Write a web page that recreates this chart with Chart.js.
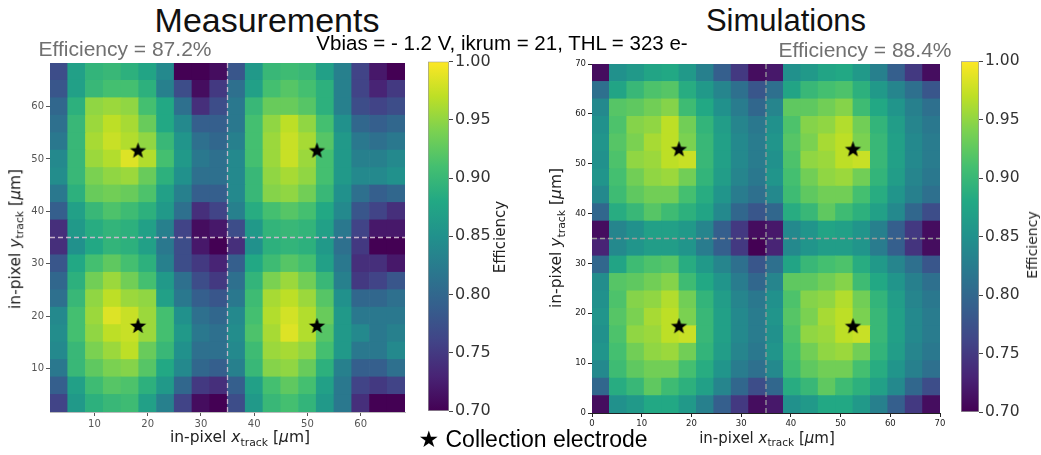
<!DOCTYPE html>
<html>
<head>
<meta charset="utf-8">
<script src="https://cdn.jsdelivr.net/npm/chart.js@4.4.1/dist/chart.umd.min.js"></script>
<style>
  body { margin: 0; background: #fff; width: 1041px; height: 455px; overflow: hidden; position: relative; }
  canvas { position: absolute; }
  .txt { position: absolute; white-space: nowrap; line-height: 1; transform: translate(-50%, -50%); }
  .slide { font-family: "Liberation Sans", Arial, sans-serif; }
  .mpl { font-family: "DejaVu Sans", sans-serif; color: #222; }
  .rot { transform: translate(-50%, -50%) rotate(-90deg); }
  sub { font-size: 70%; vertical-align: -0.3em; line-height: 0; }
</style>
</head>
<body>
<canvas id="measMap" width="415" height="385" style="left:0;top:50px"></canvas>
<canvas id="measBar" width="80" height="385" style="left:420px;top:50px"></canvas>
<canvas id="simMap" width="420" height="385" style="left:530px;top:50px"></canvas>
<canvas id="simBar" width="88" height="385" style="left:953px;top:50px"></canvas>

<div class="txt slide" style="left:267px;top:20px;font-size:34px;color:#111">Measurements</div>
<div class="txt slide" style="left:786px;top:20px;font-size:31px;color:#111">Simulations</div>
<div class="txt slide" style="left:125px;top:48px;font-size:21px;color:#707070">Efficiency = 87.2%</div>
<div class="txt slide" style="left:865px;top:49px;font-size:21px;color:#707070">Efficiency = 88.4%</div>
<div class="txt slide" style="left:502px;top:43px;font-size:20.5px;color:#000">Vbias = - 1.2 V, ikrum = 21, THL = 323 e-</div>
<div class="txt slide" style="left:533px;top:439px;font-size:23px;color:#000"><span style="font-family:'DejaVu Sans'">★</span> Collection electrode</div>

<div class="txt mpl rot" style="left:16px;top:239px;font-size:15.5px">in-pixel <i>y</i><sub>track</sub> [<i>µ</i>m]</div>
<div class="txt mpl" style="left:240px;top:438px;font-size:15.5px">in-pixel <i>x</i><sub>track</sub> [<i>µ</i>m]</div>
<div class="txt mpl rot" style="left:557px;top:238px;font-size:15.5px">in-pixel <i>y</i><sub>track</sub> [<i>µ</i>m]</div>
<div class="txt mpl" style="left:767px;top:438px;font-size:15px">in-pixel <i>x</i><sub>track</sub> [<i>µ</i>m]</div>
<div class="txt mpl rot" style="left:500px;top:237px;font-size:15px">Efficiency</div>
<div class="txt mpl rot" style="left:1032px;top:245px;font-size:14px">Efficiency</div>

<script>
// in-pixel efficiency maps, rows listed from top (high y) to bottom (low y)
const measRange = [5 / 3, 205 / 3];
const measTicks = [10, 20, 30, 40, 50, 60];
const measEff = [
  [0.77, 0.87, 0.895, 0.90, 0.89, 0.875, 0.84, 0.70, 0.70, 0.71, 0.78, 0.86, 0.90, 0.905, 0.90, 0.87, 0.83, 0.76, 0.72, 0.70],
  [0.78, 0.87, 0.90, 0.91, 0.91, 0.89, 0.83, 0.77, 0.71, 0.75, 0.81, 0.87, 0.91, 0.92, 0.91, 0.89, 0.83, 0.76, 0.73, 0.75],
  [0.80, 0.89, 0.95, 0.955, 0.95, 0.91, 0.88, 0.81, 0.74, 0.77, 0.82, 0.90, 0.93, 0.93, 0.92, 0.89, 0.83, 0.77, 0.76, 0.77],
  [0.81, 0.90, 0.955, 0.97, 0.96, 0.93, 0.88, 0.84, 0.79, 0.79, 0.82, 0.91, 0.95, 0.97, 0.95, 0.91, 0.85, 0.80, 0.79, 0.80],
  [0.82, 0.90, 0.96, 0.975, 0.965, 0.95, 0.90, 0.855, 0.81, 0.80, 0.83, 0.91, 0.955, 0.975, 0.96, 0.92, 0.86, 0.82, 0.81, 0.82],
  [0.84, 0.90, 0.955, 0.965, 0.985, 0.965, 0.91, 0.86, 0.82, 0.81, 0.84, 0.91, 0.955, 0.975, 0.955, 0.91, 0.86, 0.83, 0.83, 0.84],
  [0.845, 0.90, 0.94, 0.95, 0.955, 0.93, 0.89, 0.85, 0.81, 0.81, 0.84, 0.90, 0.95, 0.96, 0.95, 0.91, 0.86, 0.84, 0.84, 0.85],
  [0.82, 0.89, 0.93, 0.935, 0.93, 0.915, 0.87, 0.83, 0.79, 0.79, 0.84, 0.90, 0.945, 0.95, 0.935, 0.90, 0.85, 0.81, 0.79, 0.80],
  [0.79, 0.87, 0.90, 0.915, 0.905, 0.89, 0.86, 0.81, 0.74, 0.76, 0.83, 0.885, 0.91, 0.92, 0.91, 0.88, 0.84, 0.78, 0.76, 0.74],
  [0.74, 0.86, 0.885, 0.895, 0.89, 0.87, 0.83, 0.76, 0.71, 0.72, 0.77, 0.86, 0.895, 0.90, 0.895, 0.87, 0.82, 0.76, 0.72, 0.72],
  [0.74, 0.85, 0.88, 0.895, 0.89, 0.87, 0.82, 0.77, 0.72, 0.70, 0.74, 0.85, 0.89, 0.895, 0.89, 0.86, 0.81, 0.75, 0.70, 0.70],
  [0.78, 0.88, 0.91, 0.925, 0.91, 0.89, 0.83, 0.77, 0.75, 0.73, 0.79, 0.88, 0.905, 0.92, 0.91, 0.87, 0.82, 0.74, 0.74, 0.72],
  [0.80, 0.89, 0.935, 0.955, 0.935, 0.91, 0.86, 0.81, 0.77, 0.75, 0.81, 0.895, 0.94, 0.955, 0.935, 0.90, 0.83, 0.75, 0.76, 0.78],
  [0.81, 0.90, 0.95, 0.97, 0.955, 0.95, 0.87, 0.82, 0.79, 0.78, 0.82, 0.905, 0.96, 0.97, 0.955, 0.92, 0.85, 0.80, 0.80, 0.81],
  [0.84, 0.91, 0.955, 0.985, 0.975, 0.955, 0.91, 0.85, 0.81, 0.80, 0.84, 0.91, 0.965, 0.98, 0.965, 0.93, 0.86, 0.82, 0.82, 0.82],
  [0.845, 0.91, 0.95, 0.97, 0.975, 0.955, 0.91, 0.86, 0.82, 0.81, 0.845, 0.915, 0.96, 0.985, 0.965, 0.92, 0.86, 0.84, 0.82, 0.83],
  [0.84, 0.90, 0.94, 0.955, 0.97, 0.93, 0.90, 0.85, 0.81, 0.81, 0.84, 0.905, 0.955, 0.96, 0.95, 0.91, 0.86, 0.82, 0.82, 0.84],
  [0.82, 0.90, 0.925, 0.94, 0.945, 0.92, 0.88, 0.84, 0.80, 0.79, 0.83, 0.90, 0.945, 0.95, 0.93, 0.89, 0.83, 0.79, 0.79, 0.81],
  [0.79, 0.87, 0.905, 0.92, 0.915, 0.89, 0.86, 0.80, 0.75, 0.74, 0.79, 0.87, 0.91, 0.925, 0.91, 0.87, 0.82, 0.76, 0.75, 0.76],
  [0.76, 0.86, 0.89, 0.90, 0.905, 0.87, 0.83, 0.76, 0.71, 0.70, 0.77, 0.86, 0.90, 0.91, 0.895, 0.86, 0.82, 0.74, 0.70, 0.70]
];
const measStarX = [18.2, 51.8, 18.2, 51.8];
const measStarY = [51.7, 51.7, 18.2, 18.2];

const simRange = [0, 70];
const simTicks = [0, 10, 20, 30, 40, 50, 60, 70];
const simEff = [
  [0.71, 0.85, 0.86, 0.875, 0.88, 0.86, 0.83, 0.79, 0.75, 0.71, 0.72, 0.85, 0.86, 0.875, 0.88, 0.86, 0.83, 0.79, 0.75, 0.71],
  [0.81, 0.875, 0.90, 0.915, 0.92, 0.885, 0.86, 0.835, 0.81, 0.78, 0.81, 0.875, 0.90, 0.91, 0.915, 0.89, 0.86, 0.835, 0.81, 0.78],
  [0.84, 0.92, 0.925, 0.935, 0.945, 0.905, 0.88, 0.85, 0.825, 0.80, 0.835, 0.925, 0.925, 0.935, 0.945, 0.905, 0.88, 0.855, 0.83, 0.81],
  [0.85, 0.915, 0.945, 0.95, 0.97, 0.935, 0.895, 0.865, 0.835, 0.82, 0.85, 0.915, 0.945, 0.95, 0.965, 0.935, 0.895, 0.865, 0.835, 0.82],
  [0.855, 0.92, 0.94, 0.96, 0.97, 0.94, 0.90, 0.87, 0.84, 0.825, 0.855, 0.92, 0.94, 0.96, 0.97, 0.94, 0.90, 0.87, 0.84, 0.825],
  [0.85, 0.915, 0.95, 0.955, 0.97, 0.975, 0.90, 0.87, 0.84, 0.825, 0.85, 0.915, 0.95, 0.955, 0.97, 0.975, 0.90, 0.87, 0.84, 0.825],
  [0.855, 0.91, 0.935, 0.95, 0.955, 0.935, 0.895, 0.865, 0.835, 0.82, 0.855, 0.91, 0.935, 0.95, 0.955, 0.935, 0.895, 0.865, 0.835, 0.82],
  [0.84, 0.905, 0.925, 0.935, 0.935, 0.91, 0.885, 0.855, 0.825, 0.81, 0.84, 0.905, 0.925, 0.935, 0.935, 0.91, 0.885, 0.855, 0.83, 0.81],
  [0.80, 0.885, 0.90, 0.92, 0.905, 0.89, 0.875, 0.84, 0.80, 0.78, 0.80, 0.885, 0.90, 0.925, 0.905, 0.89, 0.87, 0.84, 0.80, 0.77],
  [0.71, 0.835, 0.85, 0.87, 0.87, 0.86, 0.835, 0.79, 0.75, 0.71, 0.72, 0.84, 0.855, 0.875, 0.87, 0.855, 0.83, 0.79, 0.75, 0.71],
  [0.73, 0.84, 0.855, 0.865, 0.865, 0.855, 0.825, 0.79, 0.75, 0.70, 0.73, 0.84, 0.855, 0.865, 0.865, 0.855, 0.825, 0.79, 0.745, 0.71],
  [0.80, 0.875, 0.905, 0.915, 0.92, 0.885, 0.86, 0.835, 0.81, 0.78, 0.81, 0.875, 0.90, 0.91, 0.915, 0.885, 0.86, 0.835, 0.81, 0.78],
  [0.845, 0.92, 0.925, 0.935, 0.945, 0.905, 0.88, 0.855, 0.825, 0.80, 0.835, 0.925, 0.925, 0.935, 0.945, 0.905, 0.88, 0.855, 0.83, 0.81],
  [0.85, 0.915, 0.945, 0.95, 0.965, 0.935, 0.895, 0.865, 0.835, 0.82, 0.85, 0.915, 0.945, 0.95, 0.965, 0.935, 0.895, 0.865, 0.835, 0.82],
  [0.855, 0.92, 0.94, 0.96, 0.97, 0.94, 0.90, 0.87, 0.84, 0.825, 0.855, 0.92, 0.94, 0.96, 0.97, 0.94, 0.90, 0.87, 0.84, 0.825],
  [0.85, 0.915, 0.95, 0.955, 0.97, 0.975, 0.90, 0.87, 0.84, 0.825, 0.85, 0.915, 0.95, 0.955, 0.97, 0.975, 0.90, 0.87, 0.84, 0.825],
  [0.855, 0.91, 0.935, 0.95, 0.955, 0.935, 0.895, 0.865, 0.835, 0.82, 0.855, 0.91, 0.935, 0.95, 0.955, 0.935, 0.895, 0.865, 0.835, 0.82],
  [0.84, 0.905, 0.925, 0.935, 0.935, 0.91, 0.885, 0.855, 0.825, 0.81, 0.84, 0.905, 0.925, 0.935, 0.935, 0.91, 0.885, 0.855, 0.83, 0.81],
  [0.80, 0.885, 0.90, 0.925, 0.905, 0.89, 0.87, 0.835, 0.80, 0.77, 0.80, 0.885, 0.90, 0.925, 0.905, 0.89, 0.87, 0.84, 0.80, 0.77],
  [0.71, 0.85, 0.86, 0.88, 0.88, 0.86, 0.83, 0.79, 0.75, 0.71, 0.72, 0.85, 0.86, 0.88, 0.88, 0.86, 0.83, 0.79, 0.75, 0.71]
];
const simStarX = [17.5, 52.5, 17.5, 52.5];
const simStarY = [53, 53, 17.5, 17.5];

const pixelBorder = 35;
const effMin = 0.70;
const effMax = 1.00;
const effTicks = [0.70, 0.75, 0.80, 0.85, 0.90, 0.95, 1.00];

const viridis = ['#440154', '#482475', '#414487', '#355f8d', '#2a788e', '#21918c',
                 '#22a884', '#44bf70', '#7ad151', '#bddf26', '#fde725'];

Chart.defaults.font.family = "'DejaVu Sans', sans-serif";
Chart.defaults.color = '#333';

function hexRgb(h) {
  return [1, 3, 5].map(i => parseInt(h.slice(i, i + 2), 16));
}

function cmap(v) {
  let t = (v - effMin) / (effMax - effMin);
  t = Math.min(1, Math.max(0, t)) * (viridis.length - 1);
  const i = Math.min(viridis.length - 2, Math.floor(t));
  const a = hexRgb(viridis[i]), b = hexRgb(viridis[i + 1]);
  const f = t - i;
  const c = a.map((x, k) => Math.round(x + (b[k] - x) * f));
  return `rgb(${c[0]},${c[1]},${c[2]})`;
}

function cells(rows, range) {
  const nx = rows[0].length, ny = rows.length;
  const w = (range[1] - range[0]) / nx, h = (range[1] - range[0]) / ny;
  const pts = [];
  rows.forEach((row, r) => row.forEach((v, c) => {
    pts.push({x: range[0] + (c + 0.5) * w, y: range[1] - (r + 0.5) * h, v: v});
  }));
  return pts;
}

// filled 5-point star used as the electrode marker
function starImage(R) {
  const cv = document.createElement('canvas');
  cv.width = cv.height = 2 * R + 2;
  const g = cv.getContext('2d');
  g.beginPath();
  for (let k = 0; k < 10; k++) {
    const rad = k % 2 ? R * 0.42 : R;
    const ang = -Math.PI / 2 + k * Math.PI / 5;
    g.lineTo(R + 1 + rad * Math.cos(ang), R + 1 + rad * Math.sin(ang) + 0.8);
  }
  g.closePath();
  g.fillStyle = '#000';
  g.fill();
  return cv;
}
const star = starImage(8.5);

function heatmap(id, rows, range, ticks, starX, starY, lay) {
  const cellW = (range[1] - range[0]) / rows[0].length;
  const cellH = (range[1] - range[0]) / rows.length;
  const axis = (size, ticksFont, fit) => ({
    type: 'linear', min: range[0], max: range[1],
    afterBuildTicks: s => { s.ticks = ticks.map(v => ({value: v})); },
    afterFit: fit,
    ticks: {font: {size: ticksFont}, color: lay.tickColor, padding: 2, maxRotation: 0, autoSkip: false},
    grid: {drawOnChartArea: false, drawTicks: true, tickLength: 4, tickColor: lay.tickColor},
    border: {display: true, color: lay.frame, width: 1}
  });
  return new Chart(document.getElementById(id), {
    type: 'scatter',
    data: {
      datasets: [
        {
          data: starX.map((x, i) => ({x: x, y: starY[i]})),
          pointStyle: star, pointRadius: 9
        },
        {
          data: [{x: pixelBorder, y: range[0]}, {x: pixelBorder, y: range[1]}],
          showLine: true, borderColor: lay.dash, borderWidth: 1.3, borderDash: [5, 3], pointRadius: 0
        },
        {
          data: [{x: range[0], y: pixelBorder}, {x: range[1], y: pixelBorder}],
          showLine: true, borderColor: lay.dash, borderWidth: 1.3, borderDash: [5, 3], pointRadius: 0
        },
        {
          data: cells(rows, range),
          pointStyle: 'rect',
          pointBorderWidth: 0,
          backgroundColor: ctx => cmap(ctx.raw.v),
          pointRadius: ctx => {
            const sx = ctx.chart.scales.x, sy = ctx.chart.scales.y;
            const pw = Math.abs(sx.getPixelForValue(cellW) - sx.getPixelForValue(0));
            const ph = Math.abs(sy.getPixelForValue(cellH) - sy.getPixelForValue(0));
            return (Math.max(pw, ph) + 0.7) / Math.SQRT2;
          }
        }
      ]
    },
    options: {
      responsive: false, animation: false, events: [],
      layout: {padding: lay.padding},
      plugins: {legend: {display: false}, tooltip: {enabled: false}},
      scales: {
        x: axis('x', lay.tickSize, s => { s.height = lay.xH; }),
        y: axis('y', lay.tickSize, s => { s.width = lay.yW; })
      }
    }
  });
}

function colorbar(id, lay) {
  return new Chart(document.getElementById(id), {
    type: 'bar',
    data: {
      labels: [''],
      datasets: [{
        data: [[effMin, effMax]],
        categoryPercentage: 1, barPercentage: 1,
        borderColor: '#9a9a9a', borderWidth: 1, borderSkipped: false,
        backgroundColor: ctx => {
          const area = ctx.chart.chartArea;
          if (!area) return viridis[5];
          const g = ctx.chart.ctx.createLinearGradient(0, area.bottom, 0, area.top);
          viridis.forEach((c, i) => g.addColorStop(i / (viridis.length - 1), c));
          return g;
        }
      }]
    },
    options: {
      responsive: false, animation: false, events: [],
      layout: {padding: lay.padding},
      plugins: {legend: {display: false}, tooltip: {enabled: false}},
      scales: {
        x: {display: false},
        y: {
          position: 'right', min: effMin, max: effMax,
          afterBuildTicks: s => { s.ticks = effTicks.map(v => ({value: v})); },
          afterFit: s => { s.width = lay.yW; },
          ticks: {font: {size: lay.tickSize}, color: '#333', padding: 2, callback: v => v.toFixed(2)},
          grid: {drawOnChartArea: false, drawTicks: true, tickLength: 4, tickColor: '#444'},
          border: {display: false}
        }
      }
    }
  });
}

heatmap('measMap', measEff, measRange, measTicks, measStarX, measStarY, {
  padding: {top: 13, right: 8, left: 0, bottom: 0}, xH: 23, yW: 50,
  tickSize: 10, tickColor: '#555', frame: '#bbb', dash: 'rgba(205,185,205,0.95)'
});
heatmap('simMap', simEff, simRange, simTicks, simStarX, simStarY, {
  padding: {top: 14, right: 10, left: 0, bottom: 0}, xH: 22, yW: 62,
  tickSize: 8.5, tickColor: '#222', frame: '#222', dash: '#9a9a9a'
});
colorbar('measBar', {padding: {top: 10, left: 8, right: 0, bottom: 24}, yW: 51, tickSize: 16});
colorbar('simBar', {padding: {top: 11, left: 8, right: 0, bottom: 23}, yW: 62, tickSize: 15.5});
</script>
</body>
</html>
